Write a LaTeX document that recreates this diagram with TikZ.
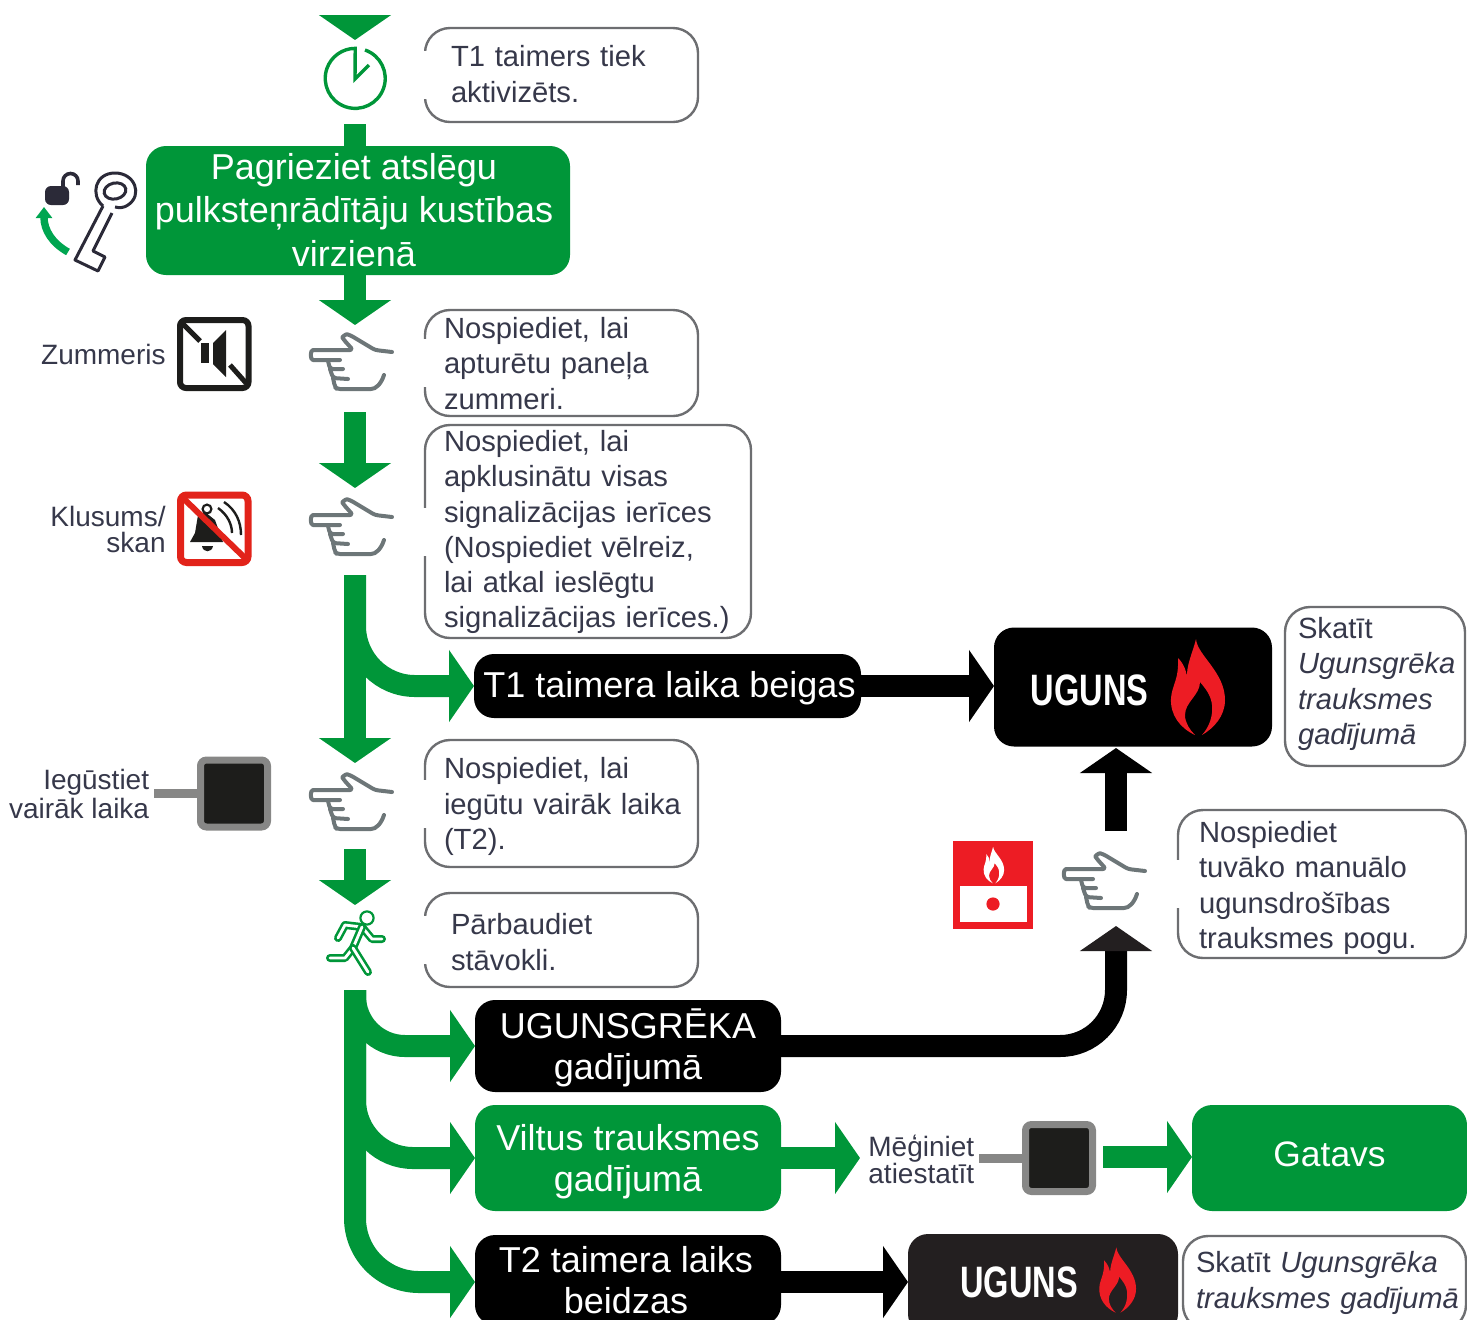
\documentclass[tikz,border=0pt]{standalone}
\usepackage{fontspec}
\setmainfont{Liberation Sans}
\newfontfamily\firefont[FakeStretch=0.74]{Liberation Sans}
\usepackage{xcolor}
\usetikzlibrary{arrows.meta,positioning,calc}
\definecolor{flowgreen}{HTML}{009639}
\definecolor{keygreen}{HTML}{00A651}
\definecolor{firered}{HTML}{ED1C24}
\definecolor{mutered}{HTML}{E2231A}
\definecolor{inktext}{HTML}{36384A}
\definecolor{bubbleline}{HTML}{6D6E71}
\definecolor{handline}{HTML}{6D7678}
\definecolor{keygrey}{HTML}{878786}
\definecolor{keyblack}{HTML}{1D1D1B}
\definecolor{fireblack}{HTML}{231F20}
\definecolor{lockdark}{HTML}{2B2A38}
\tikzset{
    pics/hand/.style={code={
        \draw[handstroke] (41,-10) -- (24,-12) -- (-1,-27) .. controls (-5,-28) and (-9,-25) .. (-7,-22) -- (2,-12) -- (-35,-12) .. controls (-41,-12) and (-41,-2) .. (-35,-2) -- (-11,-2);
        \draw[handstroke] (-23,-1) -- (-21,7) -- (-8,7);
        \draw[handstroke] (-21,7) -- (-18,16) -- (-3,17);
        \draw[handstroke] (-18,16) -- (-16,25) -- (-14,27) -- (17,27) .. controls (25,27) and (30,22) .. (33,13);
    }},
    pics/flame/.style={code={
        \path[pic actions] (-2,48) .. controls (-17,41) and (-27,28) .. (-26,11) .. controls (-25,-2) and (-18,-7) .. (-19,-29) .. controls (-13,-23) and (-10,-15) .. (-10,-7) .. controls (-11,-22) and (-5,-32) .. (-1,-48) .. controls (0,-32) and (28,-15) .. (28,13) .. controls (28,29) and (17,41) .. (5,48) .. controls (13,39) and (16,28) .. (15,18) .. controls (14,8) and (8,1) .. (3,-5) .. controls (3,8) and (-12,15) .. (-12,28) .. controls (-12,36) and (-7,43) .. (-2,48) -- cycle;
    }}
}
\begin{document}
\begin{tikzpicture}[
    x=0.5pt, y=-0.5pt,
    handstroke/.style={draw=handline, line width=2pt, line cap=round, line join=round, rounded corners=1.5pt},
    toproom/.style={execute at begin node={\rule{0pt}{#1}}},
    footroom/.style={execute at end node={\rule[-#1]{0pt}{0pt}}},
    bubble/.style={rectangle, draw=bubbleline, line width=1.2pt, rounded corners=12.5pt, fill=white, align=left, inner xsep=9.5pt, inner ysep=0pt, outer sep=0pt, text=inktext, font=\fontsize{14.6}{17.6}\selectfont},
    greenbox/.style={rectangle, fill=flowgreen, rounded corners=10pt, align=center, text=white, inner sep=0pt, outer sep=0pt, font=\fontsize{18}{20.4}\selectfont},
    blackbox/.style={greenbox, fill=black},
    firebox/.style={rectangle, rounded corners=10pt, inner sep=0pt, outer sep=0pt},
    fireword/.style={text=white, inner sep=0pt, font=\firefont\bfseries\fontsize{22}{24}\selectfont},
    label/.style={text=inktext, inner sep=0pt, font=\fontsize{14}{13}\selectfont},
    resetkey/.style={rectangle, draw=keygrey, fill=keyblack, line width=3.5pt, rounded corners=3pt, minimum size=33.5pt, inner sep=0pt, outer sep=0pt},
    keystub/.style={draw=keygrey, line width=4.5pt},
    greenstem/.style={draw=flowgreen, line width=11pt},
    greenflow/.style={greenstem, -{Triangle[length=12.5pt,width=35.5pt]}},
    blackflow/.style={draw=black, line width=11pt, -{Triangle[length=12.5pt,width=35.5pt]}},
    runnerline/.style={draw=flowgreen, line width=1.3pt, double=white, double distance=1.4pt, line cap=round, line join=round}
]
    \useasboundingbox (0,0) rectangle (1467,1319);

    % === LAYER 1: Free ends of the arrows ===
    \coordinate (topin) at (355,15);
    \coordinate (topout) at (355,40);
    \coordinate (clockout) at (355,124);
    \coordinate (turnout) at (355,325);
    \coordinate (buzzin) at (355,412);
    \coordinate (buzzout) at (355,488);
    \coordinate (silencein) at (355,575);
    \coordinate (silenceout) at (355,763);
    \coordinate (morein) at (355,849);
    \coordinate (moreout) at (355,905);
    \coordinate (checkin) at (355,990);
    \coordinate (pushin) at (1116,831);
    \coordinate (pushout) at (1116,748);
    \coordinate (callout) at (1116,926);
    \coordinate (retryout) at (860,1158);
    \coordinate (retryin) at (1103,1157);
    \coordinate (morestub) at (154,793.5);
    \coordinate (retrystub) at (979,1158);

    % === LAYER 2: Note bubbles ===
    \node[bubble, minimum width=136.5pt, minimum height=47pt, inner xsep=13pt, text width=110.5pt, footroom=1pt] (notetimer) at (561.5,75) {T1 taimers tiek\\aktivizēts.};
    \node[bubble, minimum width=136.5pt, minimum height=53pt, text width=117.5pt, toproom=11.1pt] (notebuzz) at (561.5,363) {Nospiediet, lai\\apturētu paneļa\\zummeri.};
    \node[bubble, minimum width=163pt, minimum height=106.5pt, text width=144pt, toproom=11.2pt] (notesilence) at (588,531.5) {Nospiediet, lai\\apklusinātu visas\\signalizācijas ierīces\\(Nospiediet vēlreiz,\\lai atkal ieslēgtu\\signalizācijas ierīces.)};
    \node[bubble, minimum width=136.5pt, minimum height=63.5pt, text width=117.5pt, toproom=13.6pt] (notemore) at (561.5,803.5) {Nospiediet, lai\\\mbox{iegūtu vairāk laika}\\(T2).};
    \node[bubble, minimum width=136.5pt, minimum height=47pt, inner xsep=13pt, text width=110.5pt, toproom=12.6pt] (notecheck) at (561.5,940) {Pārbaudiet\\stāvokli.};
    \node[bubble, minimum width=144pt, minimum height=74pt, inner xsep=10.5pt, text width=123pt, toproom=14.6pt] (notepush) at (1322,884) {Nospiediet\\tuvāko manuālo\\ugunsdrošības\\trauksmes pogu.};
    \node[bubble, minimum width=90pt, minimum height=79.5pt, inner xsep=6.5pt, text width=77pt, footroom=5.6pt] (notefire) at (1375,686.5) {Skatīt\\\mbox{\itshape Ugunsgrēka}\\\itshape trauksmes\\\itshape gadījumā};
    \node[bubble, minimum width=141.5pt, minimum height=47pt, inner xsep=6.5pt, text width=128.5pt] (notelate) at (1324.5,1283) {\mbox{Skatīt \itshape Ugunsgrēka}\\\mbox{\itshape trauksmes gadījumā}};
    \foreach \bub in {notetimer,notebuzz,notesilence,notemore,notecheck,notepush}
        \fill[white] ([xshift=-2pt,yshift=12pt]\bub.west) rectangle ([xshift=2pt,yshift=-12pt]\bub.west);

    % === LAYER 3: Step boxes ===
    \node[greenbox, minimum width=212pt, minimum height=64.5pt] (turnkey) at (358,210.5) {};
    \node[text=white, align=center, inner sep=0pt, font=\fontsize{18}{21.6}\selectfont] (turnword) at (354,210) {Pagrieziet atslēgu\\pulksteņrādītāju kustības\\virzienā};
    \node[blackbox, minimum width=193.5pt, minimum height=32pt, toproom=15.1pt] (timerend) at (667.5,686) {\hspace*{2pt}T1 taimera laika beigas};
    \node[blackbox, minimum width=153pt, minimum height=46pt] (firecase) at (628,1046) {\rule{0pt}{16.8pt}UGUNSGRĒKA\\gadījumā};
    \node[greenbox, minimum width=153pt, minimum height=53pt] (falsecase) at (628,1158) {\rule{0pt}{16.6pt}Viltus trauksmes\\gadījumā};
    \node[blackbox, minimum width=153pt, minimum height=45pt] (lateend) at (628,1280) {T2 taimera laiks\hspace*{2pt}\\beidzas\hspace*{2pt}};
    \node[greenbox, minimum width=137.5pt, minimum height=53pt, font=\fontsize{17.7}{20}\selectfont, footroom=4.2pt] (done) at (1329.5,1158) {Gatavs};
    \node[firebox, fill=black, minimum width=139pt, minimum height=59.5pt] (fireone) at (1133,687) {};
    \node[firebox, fill=fireblack, minimum width=135pt, minimum height=50pt] (firetwo) at (1043,1284) {};
    \node[fireword] (wordone) at (1089.5,690) {UGUNS};
    \node[fireword] (wordtwo) at (1019,1282) {UGUNS};
    \pic[fill=firered] at (1197,687) {flame};
    \pic[fill=firered, scale=.68] at (1117,1280) {flame};

    % === LAYER 4: Arrows ===
    \draw[greenflow] (topin) -- (topout);
    \draw[greenstem] (clockout) -- (clockout |- turnkey.north);
    \draw[greenflow] (clockout |- turnkey.south) -- (turnout);
    \draw[greenflow] (buzzin) -- (buzzout);
    \draw[greenflow] (silencein) -- (silenceout);
    \draw[greenflow, rounded corners=30pt] (silencein) |- (timerend.west);
    \draw[greenflow] (morein) -- (moreout);
    \draw[greenflow, rounded corners=25pt] (checkin) |- (firecase.west);
    \draw[greenflow, rounded corners=29pt] (checkin) |- (falsecase.west);
    \draw[greenflow, rounded corners=32pt] (checkin) |- ([yshift=-1pt]lateend.west);
    \draw[blackflow] (timerend.east) -- (timerend.east -| fireone.west);
    \draw[blackflow, -{Triangle[length=12.5pt,width=35.5pt,color=fireblack,fill=fireblack]}, rounded corners=28pt] (firecase.east) -| (callout);
    \draw[blackflow] (pushin) -- (pushout);
    \draw[blackflow] ([yshift=-1pt]lateend.east) -- ([yshift=-1pt]lateend.east -| firetwo.west);
    \draw[greenflow] (falsecase.east) -- (retryout);
    \draw[greenflow] (retryin) -- (retryin -| done.west);

    % === LAYER 5: Side labels and push buttons ===
    \node[label, anchor=east, font=\fontsize{14}{16}\selectfont] (buzzlabel) at (166,354) {Zummeris};
    \node[label, anchor=east, align=right] (silencelabel) at (166,529) {Klusums/\\skan};
    \node[label, anchor=east, align=right] (morelabel) at (149.5,794) {Iegūstiet\\vairāk laika};
    \node[label, anchor=west, align=left, font=\fontsize{14}{13.5}\selectfont] (retrylabel) at (868,1159) {Mēģiniet\\atiestatīt};
    \node[resetkey] (morekey) at (234,793.5) {};
    \node[resetkey] (retrykey) at (1059,1158) {};
    \draw[keystub] (morekey.west) -- (morestub);
    \draw[keystub] (retrykey.west) -- (retrystub);

    % === LAYER 6: Icons ===
    % Clock
    \draw[flowgreen, line width=1.7pt] (365,50) arc[start angle=71, end angle=-270, radius=15pt] -- (355,79) -- (369,65);

    % Open lock, turn arrow and key
    \fill[lockdark, rounded corners=3pt] (45,186) rectangle (69,205);
    \draw[lockdark, line width=1.8pt] (63,187) -- (63,181) arc[start angle=180, end angle=0, radius=3.75pt] -- (78,185);
    \draw[keygreen, line width=3.7pt, -{Triangle[length=5.5pt,width=8pt]}] (68,252) .. controls (52,243) and (44,230) .. (44,207);
    \draw[lockdark, line width=1.5pt, line join=round] (103,206) -- (75,260) -- (98,271) -- (105,257) -- (93,251) -- (112,213);
    \draw[lockdark, line width=1.5pt] (103,206) .. controls (90,195) and (95,173) .. (115,173) .. controls (135,173) and (143,195) .. (128,205) .. controls (124,208) and (119,208) .. (115,207);
    \draw[lockdark, line width=1.5pt, rotate around={12:(115,191)}] (115,191) ellipse (5.5pt and 4pt);

    % Muted buzzer
    \draw[keyblack, line width=3pt, rounded corners=3pt] (180,320) rectangle (248.5,388);
    \draw[keyblack, line width=2.5pt] (182,323) -- (200,341);
    \draw[keyblack, line width=2.5pt] (230,365) -- (246,383);
    \fill[keyblack] (201,343) rectangle (209,363);
    \fill[keyblack] (213,343) -- (226,330) -- (226,377) -- (213,364) -- cycle;

    % Silenced bell
    \fill[keyblack] (190,542) -- (195,533) -- (198,515) -- (205,512) -- (215,520) -- (223,542) -- cycle;
    \draw[keyblack, line width=1.1pt] (207,509) circle (2.2pt);
    \fill[keyblack] (202,546) .. controls (203,553) and (212,553) .. (213,546) -- cycle;
    \draw[keyblack, line width=1.2pt] (218,508) .. controls (228,515) and (232,525) .. (232,533);
    \draw[keyblack, line width=1.2pt] (224,502) .. controls (236,510) and (241,522) .. (241,535);
    \draw[mutered, line width=3pt] (183,498) -- (245,558);
    \draw[mutered, line width=3.5pt, rounded corners=3pt] (180.5,495) rectangle (248,562.5);

    % Pointing hands
    \pic at (351,362) {hand};
    \pic at (351,527) {hand};
    \pic at (351,802) {hand};
    \pic at (1104,881) {hand};

    % Running figure
    \draw[flowgreen, fill=white, line width=1.1pt] (367,918) circle (3.3pt);
    \draw[runnerline] (338,938) -- (345,925) -- (362,927) -- (372,939) -- (382,939);
    \draw[runnerline] (362,927) -- (353,948) -- (345,958) -- (330,958);
    \draw[runnerline] (353,948) -- (368,972);

    % Manual call point
    \fill[firered] (953,841) rectangle (1033,929);
    \fill[white] (960,886) rectangle (1027,922);
    \fill[firered] (993,904) circle (3.3pt);
    \pic[fill=white, scale=.38] at (993.5,865) {flame};
\end{tikzpicture}
\end{document}
